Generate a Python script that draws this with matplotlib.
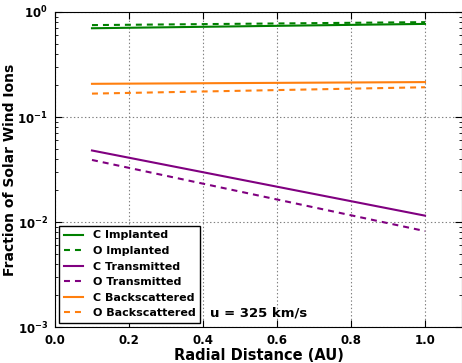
import matplotlib
matplotlib.use("Agg")
import matplotlib.pyplot as plt

plt.rcParams['font.weight'] = 'bold'
plt.rcParams['axes.labelweight'] = 'bold'
plt.rcParams['mathtext.default'] = 'bf'
plt.rcParams['lines.scale_dashes'] = False

# radial distance (AU) and fractions
r = [0.1, 1.0]
c_implanted = [0.70, 0.77]
o_implanted = [0.75, 0.80]
c_transmitted = [0.048, 0.0115]
o_transmitted = [0.039, 0.0082]
c_backscattered = [0.207, 0.215]
o_backscattered = [0.167, 0.192]

green = '#008000'
purple = '#800080'
orange = '#ff7f0e'
dash = (4.3, 3.6)

fig = plt.figure(figsize=(4.62, 3.63), dpi=100)
ax = fig.add_axes([0.119, 0.099, 0.881, 0.868])

ax.plot(r, c_implanted, color=green, lw=1.5, label='C Implanted')
ax.plot(r, o_implanted, color=green, lw=1.5, ls='--', dashes=dash, label='O Implanted')
ax.plot(r, c_transmitted, color=purple, lw=1.5, label='C Transmitted')
ax.plot(r, o_transmitted, color=purple, lw=1.5, ls='--', dashes=dash, label='O Transmitted')
ax.plot(r, c_backscattered, color=orange, lw=1.5, label='C Backscattered')
ax.plot(r, o_backscattered, color=orange, lw=1.5, ls='--', dashes=dash, label='O Backscattered')

ax.set_yscale('log')
ax.set_xlim(0, 1.1)
ax.set_ylim(1e-3, 1)
ax.set_xticks([0.0, 0.2, 0.4, 0.6, 0.8, 1.0])
ax.tick_params(which='both', direction='in', top=True, right=True, labelsize=8.5, pad=5)
ax.tick_params(which='major', length=5)
ax.tick_params(which='minor', length=2.5)
ax.grid(True, which='major', color='gray', ls=':', lw=0.8)

ax.set_xlabel('Radial Distance (AU)', fontsize=10.5, labelpad=1)
ax.set_ylabel('Fraction of Solar Wind Ions', fontsize=10)
ax.yaxis.set_label_coords(-0.094, 0.5)

ax.text(0.42, 1.25e-3, 'u = 325 km/s', fontsize=9.5)

leg = ax.legend(loc='lower left', fontsize=8, fancybox=False, framealpha=1,
                edgecolor='black', handlelength=1.7, handletextpad=0.9,
                borderaxespad=0.4, labelspacing=0.5)
leg.get_frame().set_linewidth(1.0)

fig.savefig('out.png', dpi=100)
